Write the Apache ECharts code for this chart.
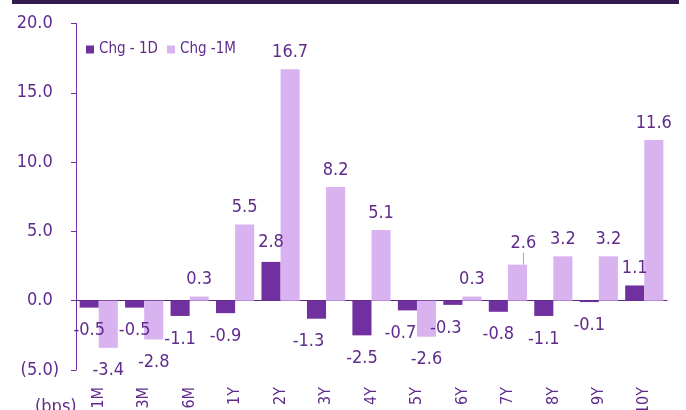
<!DOCTYPE html>
<html>
<head>
<meta charset="utf-8">
<script src="https://cdn.jsdelivr.net/npm/echarts@6/dist/echarts.min.js"></script>
<style>
html,body{margin:0;padding:0;background:#fff;}
#c{width:686px;height:410px;}
</style>
</head>
<body>
<div id="c"></div>
<script>
const categories = ['1M','3M','6M','1Y','2Y','3Y','4Y','5Y','6Y','7Y','8Y','9Y','10Y'];
const seriesNames = ['Chg - 1D', 'Chg -1M'];
const chg1D = [-0.5,-0.5,-1.1,-0.9,2.8,-1.3,-2.5,-0.7,-0.3,-0.8,-1.1,-0.1,1.1];
const chg1M = [-3.4,-2.8,0.3,5.5,16.7,8.2,5.1,-2.6,0.3,2.6,3.2,3.2,11.6];
const yMin = -5, yMax = 20, yStep = 5;
const unitLabel = '(bps)';

const FONT = "'DejaVu Sans Condensed', 'DejaVu Sans', sans-serif";
const TXT = '#5f2b8c';
const DARK = '#7030a0';
const LIGHT = '#d9b3f0';

// label placement tweaks (styling only)
const shift1D = {4:[0,-3], 5:[-8,0], 7:[-7,0], 8:[-7,0]};
const shift1M = {4:[0,-3], 12:[-13,0]};

function buildData(vals, shifts, guideIdx) {
  return vals.map((v, i) => {
    const item = {
      value: v,
      label: {
        position: v < 0 ? 'bottom' : 'top',
        distance: v < 0 ? 14 : 8,
        offset: shifts[i] || [0, 0]
      }
    };
    if (i === guideIdx) {
      item.labelLine = {show: true, lineStyle: {color: '#a6a6a6', width: 1}};
    }
    return item;
  });
}

const chart = echarts.init(document.getElementById('c'), null, {renderer: 'canvas'});
chart.setOption({
  animation: false,
  textStyle: {fontFamily: FONT},
  graphic: [
    {type: 'rect', shape: {x: 12, y: 0, width: 667, height: 4}, style: {fill: '#311b4f'}},
    {type: 'text', left: 35, top: 398, style: {text: unitLabel, fill: TXT, font: '18px ' + FONT}}
  ],
  legend: {
    data: seriesNames,
    left: 86, top: 42, padding: 0,
    icon: 'rect', itemWidth: 8, itemHeight: 8, itemGap: 9,
    textStyle: {fontSize: 15, color: TXT, fontFamily: FONT}
  },
  grid: {left: 76, right: 19, top: 23.5, bottom: 40, containLabel: false, outerBoundsMode: 'none'},
  xAxis: [
    {
      type: 'category', data: categories,
      axisLine: {onZero: true, lineStyle: {color: '#5a2a82', width: 1}},
      axisTick: {show: false}, axisLabel: {show: false}, splitLine: {show: false}
    },
    {
      type: 'category', data: categories, position: 'bottom',
      axisLine: {show: false, onZero: false}, axisTick: {show: false}, splitLine: {show: false},
      axisLabel: {show: true, interval: 0, rotate: 90, margin: 17, fontSize: 16, color: TXT, fontFamily: FONT}
    }
  ],
  yAxis: {
    type: 'value', min: yMin, max: yMax, interval: yStep,
    axisLine: {show: true, lineStyle: {color: DARK, width: 1}},
    axisTick: {show: true, inside: false, length: 5, lineStyle: {color: DARK}},
    splitLine: {show: false},
    axisLabel: {
      margin: 17, fontSize: 18, color: TXT, fontFamily: FONT,
      formatter: v => v < 0 ? '(' + Math.abs(v).toFixed(1) + ')' : v.toFixed(1) + '{pad|)}',
      rich: {pad: {color: 'rgba(0,0,0,0)', fontSize: 18, fontFamily: FONT}}
    }
  },
  series: [
    {
      name: seriesNames[0], type: 'bar', xAxisIndex: 0,
      data: buildData(chg1D, shift1D, -1),
      itemStyle: {color: DARK},
      barGap: '0%', barCategoryGap: '16%',
      label: {show: true, fontSize: 18, color: TXT, fontFamily: FONT,
        formatter: p => p.value.toFixed(1)}
    },
    {
      name: seriesNames[1], type: 'bar', xAxisIndex: 0,
      data: buildData(chg1M, shift1M, 9),
      itemStyle: {color: LIGHT},
      barGap: '0%', barCategoryGap: '16%',
      label: {show: true, fontSize: 18, color: TXT, fontFamily: FONT,
        formatter: p => p.value.toFixed(1)},
      labelLayout: function (params) {
        if (params.dataIndex === 9) return {dx: 6, dy: -4};
        return {};
      }
    }
  ]
});
</script>
</body>
</html>
